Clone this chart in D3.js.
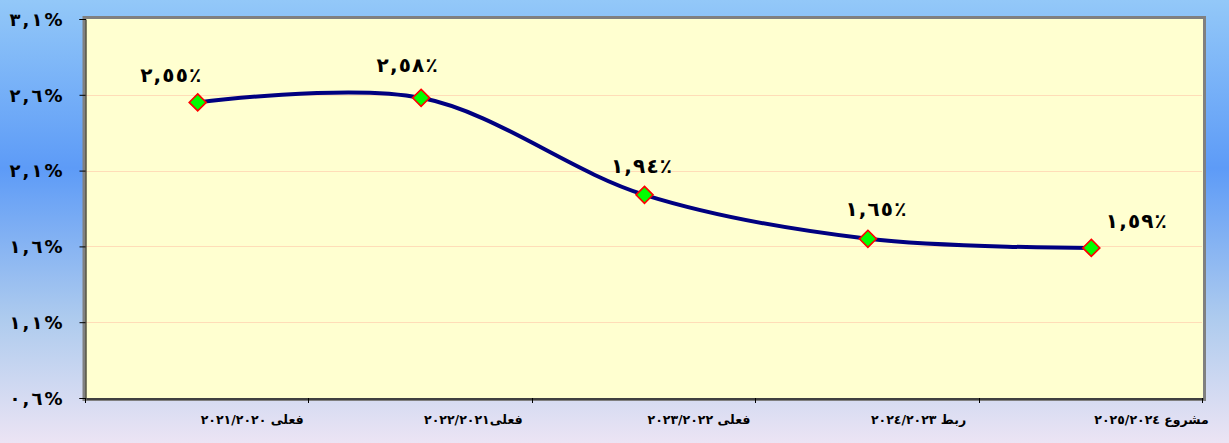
<!DOCTYPE html>
<html><head><meta charset="utf-8">
<script src="https://cdn.jsdelivr.net/npm/d3@7"></script>
<style>html,body{margin:0;padding:0;overflow:hidden;background:#fff}</style>
</head><body>
<svg id="chart" width="1229" height="443"></svg>
<script>
// ---- data ----
const categories = ["فعلى ٢٠٢١/٢٠٢٠", "فعلى٢٠٢٢/٢٠٢١", "فعلى ٢٠٢٣/٢٠٢٢", "ربط ٢٠٢٤/٢٠٢٣", "مشروع ٢٠٢٥/٢٠٢٤"];
const values = [2.55, 2.58, 1.94, 1.65, 1.59];
const yTicks = [0.6, 1.1, 1.6, 2.1, 2.6, 3.1];
const yDomain = [0.6, 3.1];
// label nudges (styling, px) relative to each point
const labelDx = [-27, -14, -3, 8, 45];
const labelDy = [-20, -26, -22, -23, -20];

const W = 1229, H = 443;
const m = {left: 86, right: 1203, top: 19, bottom: 398};
const svg = d3.select("#chart");
const toAr = s => s.replace(/[0-9]/g, d => "٠١٢٣٤٥٦٧٨٩"[+d]);

// background gradient
const defs = svg.append("defs");
const g = defs.append("linearGradient").attr("id","bg").attr("x1",0).attr("y1",0).attr("x2",0).attr("y2",1);
[[0,"#93C8F8"],[0.38,"#5D9BF7"],[0.72,"#AECBEE"],[1,"#ECE4F4"]].forEach(([o,c]) =>
  g.append("stop").attr("offset",o).attr("stop-color",c));
svg.append("rect").attr("width",W).attr("height",H).attr("fill","url(#bg)");

const x = d3.scaleBand().domain(categories).range([m.left, m.right]).padding(0);
const y = d3.scaleLinear().domain(yDomain).range([m.bottom, m.top]);

// plot area with gray frame
svg.append("rect").attr("x", m.left-2).attr("y", m.top-1.5).attr("width", m.right-m.left+3.5).attr("height", m.bottom-m.top+3)
  .attr("fill","#FFFFD0").attr("stroke","#808080").attr("stroke-width",3);

// gridlines
svg.append("g").selectAll("line").data(yTicks.filter(t => t>yDomain[0] && t<yDomain[1])).join("line")
  .attr("x1", m.left).attr("x2", m.right-1).attr("y1", d => Math.round(y(d))+0.5).attr("y2", d => Math.round(y(d))+0.5)
  .attr("stroke","#FFDDB8").attr("stroke-width",1.2);

// y axis
const yAxis = d3.axisLeft(y).tickValues(yTicks).tickSize(6).tickPadding(17)
  .tickFormat(d => toAr(d3.format(".1f")(d)).replace(".", ",") + "%");
const ya = svg.append("g").attr("transform", `translate(${m.left-0.5},0)`).call(yAxis);
ya.select(".domain").attr("stroke","#000");
ya.selectAll(".tick line").attr("stroke","#000");
ya.selectAll(".tick text").attr("fill","#000").style("font-family","'DejaVu Sans', sans-serif")
  .style("font-size","18px").style("font-weight","bold")
  .attr("textLength", 53).attr("lengthAdjust","spacing")
  .attr("direction","ltr").attr("dy","0.35em");

// x axis
const xAxis = d3.axisBottom(x).tickSize(0).tickFormat("");
const xa = svg.append("g").attr("transform", `translate(0,${m.bottom+0.5})`).call(xAxis);
xa.select(".domain").attr("stroke","#000");
const bounds = [m.left].concat(categories.map(c => x(c)+x.bandwidth()));
svg.append("g").selectAll("line").data(bounds).join("line")
  .attr("x1", d => Math.round(d)-0.5).attr("x2", d => Math.round(d)-0.5)
  .attr("y1", m.bottom).attr("y2", m.bottom+5).attr("stroke","#000");

const xl = svg.append("g").selectAll("text").data(categories).join("text")
  .text(d => d).attr("direction","rtl")
  .attr("y", m.bottom + 26)
  .attr("text-anchor","middle")
  .style("font-family","'DejaVu Sans', sans-serif").style("font-size","12.5px").style("font-weight","bold").attr("fill","#000");
xl.each(function(d){
  const w = this.getComputedTextLength();
  d3.select(this).attr("x", x(d) + x.bandwidth()/2 + 3 + w/2);
});

// line
const pts = categories.map((c,i) => [x(c)+x.bandwidth()/2, y(values[i])]);
svg.append("path").datum(pts)
  .attr("d", d3.line().curve(d3.curveCatmullRom.alpha(0.5)))
  .attr("fill","none").attr("stroke","#000080").attr("stroke-width",4);

// markers
svg.append("g").selectAll("path").data(pts).join("path")
  .attr("d", d3.symbol(d3.symbolDiamond2, 185))
  .attr("transform", d => `translate(${d[0]},${d[1]})`)
  .attr("fill","#00FF00").attr("stroke","#FF0000").attr("stroke-width",1.6);

// data labels
svg.append("g").selectAll("text").data(values).join("text")
  .attr("x", (d,i) => pts[i][0] + labelDx[i])
  .attr("y", (d,i) => pts[i][1] + labelDy[i])
  .attr("text-anchor","middle").attr("direction","ltr")
  .attr("textLength", 61).attr("lengthAdjust","spacing")
  .style("font-family","'DejaVu Sans', sans-serif").style("font-size","20px").style("font-weight","bold")
  .attr("fill","#000")
  .text(d => toAr(d3.format(".2f")(d)).replace(".", ",") + "٪");
</script>
</body></html>
